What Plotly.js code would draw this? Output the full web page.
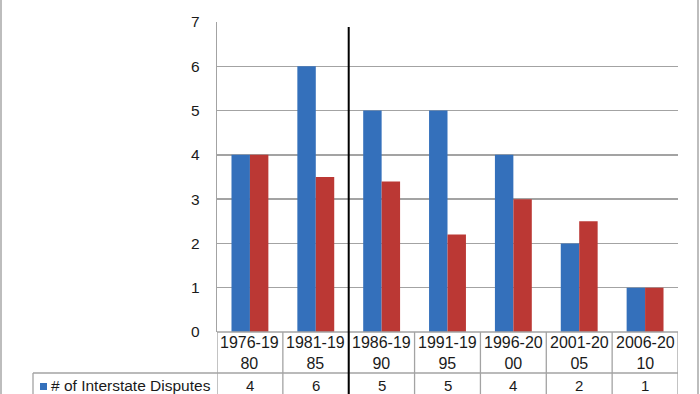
<!DOCTYPE html>
<html>
<head>
<meta charset="utf-8">
<script src="https://cdn.plot.ly/plotly-3.0.1.min.js"></script>
<style>
  html, body { margin: 0; padding: 0; background: #fff; }
  #chart { width: 700px; height: 394px; }
</style>
</head>
<body>
<div id="chart"></div>
<script>
// ---- data ----
const categories = ["1976-1980", "1981-1985", "1986-1990", "1991-1995", "1996-2000", "2001-2005", "2006-2010"];
const categoryLines = [["1976-19", "80"], ["1981-19", "85"], ["1986-19", "90"], ["1991-19", "95"], ["1996-20", "00"], ["2001-20", "05"], ["2006-20", "10"]];
const seriesNames = ["# of Interstate Disputes", "Second series"];
const disputes = [4, 6, 5, 5, 4, 2, 1];
const secondSeries = [4, 3.5, 3.4, 2.2, 3, 2.5, 1];
const yTicks = [0, 1, 2, 3, 4, 5, 6, 7];
const dividerAfter = 1; // index of category after which the black divider line is drawn

// ---- geometry (layout only) ----
const W = 700, H = 394;
const L = 217, R = 22, T = 22, B = 62;
const plotW = W - L - R, plotH = H - T - B;
const py = (pix) => (H - B - pix) / plotH;      // pixel y -> paper y
const px = (pix) => (pix - L) / plotW;          // pixel x -> paper x
const FONT = "Liberation Sans, Arial, Helvetica, sans-serif";
const gridCol = "#a3a3a3";
const txtCol = "#1a1a1a";

const traces = [
  {
    type: "bar", x: categories, y: disputes, name: seriesNames[0],
    marker: { color: "#3470bb", line: { width: 0 } },
    hoverinfo: "x+y"
  },
  {
    type: "bar", x: categories, y: secondSeries, name: seriesNames[1],
    marker: { color: "#bb3834", line: { width: 0 } },
    hoverinfo: "x+y"
  }
];

const shapes = [];
const annotations = [];
const n = categories.length;

// table top line (category axis)
shapes.push({ type: "line", xref: "paper", yref: "paper", x0: 0, x1: 1, y0: 0, y1: 0, line: { color: gridCol, width: 1.3 } });
// row separator under category labels (extends to legend cell)
shapes.push({ type: "line", xref: "paper", yref: "paper", x0: px(33), x1: 1, y0: py(373), y1: py(373), line: { color: gridCol, width: 1.3 } });
// legend cell left border
shapes.push({ type: "line", xref: "paper", yref: "paper", x0: px(33), x1: px(33), y0: py(373), y1: py(400), line: { color: gridCol, width: 1.3 } });
// vertical cell borders at category boundaries
for (let i = 0; i <= n; i++) {
  shapes.push({ type: "line", xref: "x", yref: "paper", x0: i - 0.5, x1: i - 0.5, y0: 0, y1: py(400), line: { color: gridCol, width: 1.3 } });
}
// black divider line
shapes.push({ type: "line", xref: "x", yref: "paper", x0: dividerAfter + 0.5, x1: dividerAfter + 0.5, y0: py(27), y1: py(400), line: { color: "#000", width: 2 } });
// outer frame edges
shapes.push({ type: "line", xref: "paper", yref: "paper", x0: px(1), x1: px(1), y0: py(-5), y1: py(400), line: { color: "#bdbdbd", width: 2 } });
shapes.push({ type: "line", xref: "paper", yref: "paper", x0: px(698), x1: px(698), y0: py(-5), y1: py(400), line: { color: "#bdbdbd", width: 2 } });

// category labels (two lines each) and value row
categories.forEach((c, i) => {
  annotations.push({ xref: "x", yref: "paper", x: i, y: py(353), text: categoryLines[i].join("<br>"), showarrow: false, xanchor: "center", yanchor: "middle", font: { family: FONT, size: 16, color: txtCol } });
  annotations.push({ xref: "x", yref: "paper", x: i, y: py(385), text: String(disputes[i]), showarrow: false, xanchor: "center", yanchor: "middle", font: { family: FONT, size: 15, color: txtCol } });
});
// legend cell: key square + series name
shapes.push({ type: "rect", xref: "paper", yref: "paper", x0: px(40), x1: px(47), y0: py(390), y1: py(383), fillcolor: "#3470bb", line: { width: 0 } });
annotations.push({ xref: "paper", yref: "paper", x: px(49), y: py(385), text: seriesNames[0], showarrow: false, xanchor: "left", yanchor: "middle", font: { family: FONT, size: 15.5, color: txtCol } });

const layout = {
  width: W, height: H,
  margin: { l: L, r: R, t: T, b: B, pad: 0 },
  paper_bgcolor: "#ffffff", plot_bgcolor: "#ffffff",
  showlegend: false,
  barmode: "group", bargap: 0.44, bargroupgap: 0,
  font: { family: FONT, color: txtCol },
  xaxis: {
    type: "category", categoryorder: "array", categoryarray: categories,
    showticklabels: false, showgrid: false, zeroline: false, showline: false, ticks: "",
    range: [-0.5, n - 0.5], fixedrange: true
  },
  yaxis: {
    range: [0, 7], tickvals: yTicks, ticktext: yTicks.map(String),
    showgrid: true, gridcolor: gridCol, gridwidth: 1.3,
    zeroline: false, showline: true, linecolor: gridCol, linewidth: 1.3,
    ticks: "", ticklabelstandoff: 13,
    tickfont: { family: FONT, size: 15.5, color: txtCol }, fixedrange: true
  },
  shapes: shapes,
  annotations: annotations
};

Plotly.newPlot("chart", traces, layout, { displayModeBar: false, staticPlot: true });
</script>
</body>
</html>
